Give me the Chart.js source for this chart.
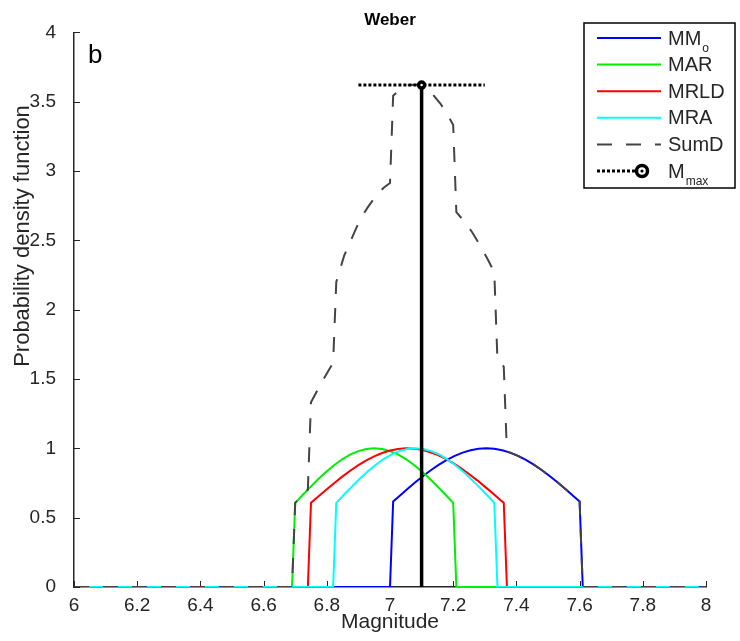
<!DOCTYPE html>
<html>
<head>
<meta charset="utf-8">
<script src="https://cdn.jsdelivr.net/npm/chart.js@4.4.1/dist/chart.umd.min.js"></script>
<style>
  body { margin: 0; background: #fff; }
</style>
</head>
<body>
<canvas id="myChart" width="740" height="641"></canvas>
<script>
// axis ticks
var xTicks = [6, 6.2, 6.4, 6.6, 6.8, 7, 7.2, 7.4, 7.6, 7.8, 8];
var yTicks = [0, 0.5, 1, 1.5, 2, 2.5, 3, 3.5, 4];

// MMo (blue)
var mmoX = [6, 7.00, 7.01, 7.03, 7.055, 7.08, 7.105, 7.13, 7.155, 7.18, 7.205, 7.23, 7.255, 7.28, 7.305, 7.33, 7.355, 7.38, 7.405, 7.43, 7.455, 7.48, 7.505, 7.53, 7.555, 7.58, 7.60, 7.61, 8];
var mmoY = [0, 0, 0.617, 0.657, 0.707, 0.755, 0.801, 0.844, 0.882, 0.917, 0.946, 0.969, 0.986, 0.997, 1.0, 0.997, 0.986, 0.969, 0.946, 0.917, 0.882, 0.844, 0.801, 0.755, 0.707, 0.657, 0.617, 0, 0];

// MAR (green)
var marX = [6, 6.69, 6.70, 6.725, 6.75, 6.775, 6.80, 6.825, 6.85, 6.875, 6.90, 6.925, 6.95, 6.975, 7.00, 7.025, 7.05, 7.075, 7.10, 7.125, 7.15, 7.175, 7.20, 7.21, 8];
var marY = [0, 0, 0.607, 0.667, 0.726, 0.783, 0.835, 0.882, 0.923, 0.956, 0.980, 0.995, 1.0, 0.995, 0.980, 0.956, 0.923, 0.882, 0.835, 0.783, 0.726, 0.667, 0.607, 0, 0];

// MRLD (red)
var mrldX = [6, 6.74, 6.75, 6.775, 6.80, 6.825, 6.85, 6.875, 6.90, 6.925, 6.95, 6.975, 7.00, 7.025, 7.05, 7.075, 7.10, 7.125, 7.15, 7.175, 7.20, 7.225, 7.25, 7.275, 7.30, 7.325, 7.35, 7.36, 7.37, 8];
var mrldY = [0, 0, 0.607, 0.656, 0.705, 0.752, 0.798, 0.840, 0.879, 0.913, 0.942, 0.966, 0.984, 0.995, 1.0, 0.998, 0.989, 0.974, 0.953, 0.926, 0.893, 0.856, 0.815, 0.771, 0.724, 0.676, 0.626, 0.607, 0, 0];

// MRA (cyan)
var mraX = [6, 6.82, 6.83, 6.855, 6.88, 6.905, 6.93, 6.955, 6.98, 7.005, 7.03, 7.055, 7.08, 7.105, 7.13, 7.155, 7.18, 7.205, 7.23, 7.255, 7.28, 7.305, 7.33, 7.34, 8];
var mraY = [0, 0, 0.607, 0.667, 0.726, 0.783, 0.835, 0.882, 0.923, 0.956, 0.980, 0.995, 1.0, 0.995, 0.980, 0.956, 0.923, 0.882, 0.835, 0.783, 0.726, 0.667, 0.607, 0, 0];

// SumD (dashed grey)
var sumX = [6, 6.69, 6.70, 6.725, 6.74, 6.75, 6.775, 6.80, 6.82, 6.83, 6.855, 6.88, 6.905, 6.93, 6.955, 6.98, 7.00, 7.01, 7.035, 7.06, 7.085, 7.11, 7.135, 7.16, 7.185, 7.20, 7.21, 7.235, 7.26, 7.285, 7.31, 7.33, 7.34, 7.36, 7.37, 7.38, 7.405, 7.43, 7.455, 7.48, 7.505, 7.53, 7.555, 7.58, 7.60, 7.61, 8];
var sumY = [0, 0, 0.607, 0.667, 0.703, 1.333, 1.439, 1.540, 1.616, 2.2, 2.39, 2.52, 2.65, 2.74, 2.82, 2.88, 2.914, 3.543, 3.593, 3.621, 3.623, 3.602, 3.554, 3.485, 3.395, 3.332, 2.703, 2.638, 2.559, 2.464, 2.36, 2.27, 1.639, 1.590, 0.977, 0.969, 0.946, 0.917, 0.882, 0.844, 0.801, 0.755, 0.707, 0.657, 0.617, 0, 0];

// Mmax and its range
var mmax = 7.1;
var mmaxPdf = 3.62;
var mmaxRange = [6.9, 7.3];

function pts(xs, ys) {
  return xs.map(function (x, i) { return { x: x, y: ys[i] }; });
}

var FONT = "'Liberation Sans', Arial, sans-serif";
var TXT = '#262626';

var extras = {
  id: 'extras',
  beforeDatasetsDraw: function (chart) {
    var ctx = chart.ctx, a = chart.chartArea;
    var xs = chart.scales.x, ys = chart.scales.y;
    ctx.save();
    ctx.strokeStyle = TXT;
    ctx.lineWidth = 1;
    ctx.beginPath();
    xTicks.forEach(function (t) {
      var px = Math.round(xs.getPixelForValue(t)) + 0.5;
      ctx.moveTo(px, a.bottom); ctx.lineTo(px, a.bottom - 6);
    });
    yTicks.forEach(function (t) {
      var py = Math.round(ys.getPixelForValue(t)) + 0.5;
      ctx.moveTo(a.left, py); ctx.lineTo(a.left + 6, py);
    });
    ctx.stroke();
    ctx.restore();
  },
  afterDraw: function (chart) {
    var ctx = chart.ctx;
    ctx.save();
    ctx.fillStyle = '#000';
    ctx.font = '26px ' + FONT;
    ctx.textBaseline = 'alphabetic';
    ctx.fillText('b', 88, 63);

    // y axis title
    ctx.save();
    ctx.translate(23, 236);
    ctx.rotate(-Math.PI / 2);
    ctx.textAlign = 'center';
    ctx.textBaseline = 'middle';
    ctx.fillStyle = TXT;
    ctx.font = '22px ' + FONT;
    ctx.fillText('Probability density function', 0, 0);
    ctx.restore();

    // legend
    ctx.fillStyle = '#fff';
    ctx.fillRect(584, 23, 151, 165);
    ctx.strokeStyle = '#000';
    ctx.lineWidth = 1.5;
    ctx.strokeRect(584, 23, 151, 165);
    var items = chart.data.datasets.filter(function (d) { return d.legendName; });
    items.sort(function (p, q) { return p.legendPos - q.legendPos; });
    items.forEach(function (d, i) {
      var y = 38 + i * 26.6;
      ctx.save();
      ctx.strokeStyle = d.borderColor;
      ctx.lineWidth = d.borderWidth;
      ctx.setLineDash(d.borderDash || []);
      ctx.beginPath();
      ctx.moveTo(597, y);
      ctx.lineTo(d.legendMarker ? 636 : 661, y);
      ctx.stroke();
      ctx.setLineDash([]);
      if (d.legendMarker) {
        ctx.beginPath();
        ctx.arc(642, y, 5.5, 0, Math.PI * 2);
        ctx.fillStyle = '#fff';
        ctx.fill();
        ctx.lineWidth = 3.5;
        ctx.strokeStyle = '#000';
        ctx.stroke();
        ctx.beginPath();
        ctx.arc(642, y, 1.6, 0, Math.PI * 2);
        ctx.fillStyle = '#000';
        ctx.fill();
      }
      ctx.restore();
      ctx.fillStyle = TXT;
      ctx.textBaseline = 'middle';
      ctx.font = '20px ' + FONT;
      ctx.fillText(d.legendName, 668, y + 1);
      if (d.legendSub) {
        var w = ctx.measureText(d.legendName).width;
        ctx.font = '12px ' + FONT;
        ctx.fillText(d.legendSub, 668 + w + 1, y + 11);
      }
    });
    ctx.restore();
  }
};

var ctx = document.getElementById('myChart');
var myChart = new Chart(ctx, {
  type: 'line',
  data: {
    datasets: [
      {
        data: pts(mmoX, mmoY), label: 'MMo', legendName: 'MM', legendSub: 'o', legendPos: 0,
        borderColor: '#0000ff', borderWidth: 2, order: 6
      },
      {
        data: pts(marX, marY), label: 'MAR', legendName: 'MAR', legendPos: 1,
        borderColor: '#00ee00', borderWidth: 2, order: 5
      },
      {
        data: pts(mrldX, mrldY), label: 'MRLD', legendName: 'MRLD', legendPos: 2,
        borderColor: '#ff0000', borderWidth: 2, order: 4
      },
      {
        data: pts(mraX, mraY), label: 'MRA', legendName: 'MRA', legendPos: 3,
        borderColor: '#00ffff', borderWidth: 2, order: 3
      },
      {
        data: pts(sumX, sumY), label: 'SumD', legendName: 'SumD', legendPos: 4,
        borderColor: '#444444', borderWidth: 2, borderDash: [15, 14], order: 2
      },
      {
        data: [{ x: mmax, y: 0 }, { x: mmax, y: mmaxPdf }],
        label: 'Mmax line', borderColor: '#000', borderWidth: 3.5, order: 1
      },
      {
        data: [{ x: mmaxRange[0], y: mmaxPdf }, { x: mmax, y: mmaxPdf }, { x: mmaxRange[1], y: mmaxPdf }],
        label: 'Mmax', legendName: 'M', legendSub: 'max', legendPos: 5, legendMarker: true,
        borderColor: '#000', borderWidth: 3, borderDash: [3, 2], order: 0,
        pointRadius: [0, 3, 0], pointBorderWidth: 3.5, pointBackgroundColor: '#fff', pointBorderColor: '#000'
      }
    ]
  },
  options: {
    responsive: false,
    animation: false,
    elements: {
      line: { tension: 0, fill: false, borderCapStyle: 'butt' },
      point: { radius: 0, hoverRadius: 0 }
    },
    layout: { padding: { left: 0, right: 34, top: 0, bottom: 0 } },
    plugins: {
      legend: { display: false },
      tooltip: { enabled: false },
      title: {
        display: true,
        text: 'Weber',
        fullSize: false,
        color: '#000',
        font: { family: FONT, size: 17, weight: 'bold' },
        padding: { top: 10, bottom: 2 }
      }
    },
    scales: {
      x: {
        type: 'linear',
        min: 6, max: 8,
        afterBuildTicks: function (s) { s.ticks = xTicks.map(function (v) { return { value: v }; }); },
        afterFit: function (s) { s.height = 54; },
        grid: { display: true, drawOnChartArea: false, drawTicks: false },
        border: { display: true, color: TXT, width: 1.5 },
        ticks: {
          padding: 7, color: TXT, maxRotation: 0, autoSkip: false,
          font: { family: FONT, size: 19 },
          callback: function (v) { return String(v); }
        },
        title: {
          display: true, text: 'Magnitude', color: TXT,
          font: { family: FONT, size: 21 },
          padding: { top: 0, bottom: 6 }
        }
      },
      y: {
        type: 'linear',
        min: 0, max: 4,
        afterBuildTicks: function (s) { s.ticks = yTicks.map(function (v) { return { value: v }; }); },
        afterFit: function (s) { s.width = 74; },
        grid: { display: true, drawOnChartArea: false, drawTicks: false },
        border: { display: true, color: TXT, width: 1.5 },
        ticks: {
          padding: 18, color: TXT, autoSkip: false,
          font: { family: FONT, size: 19 },
          callback: function (v) { return String(v); }
        }
      }
    }
  },
  plugins: [extras]
});
</script>
</body>
</html>
